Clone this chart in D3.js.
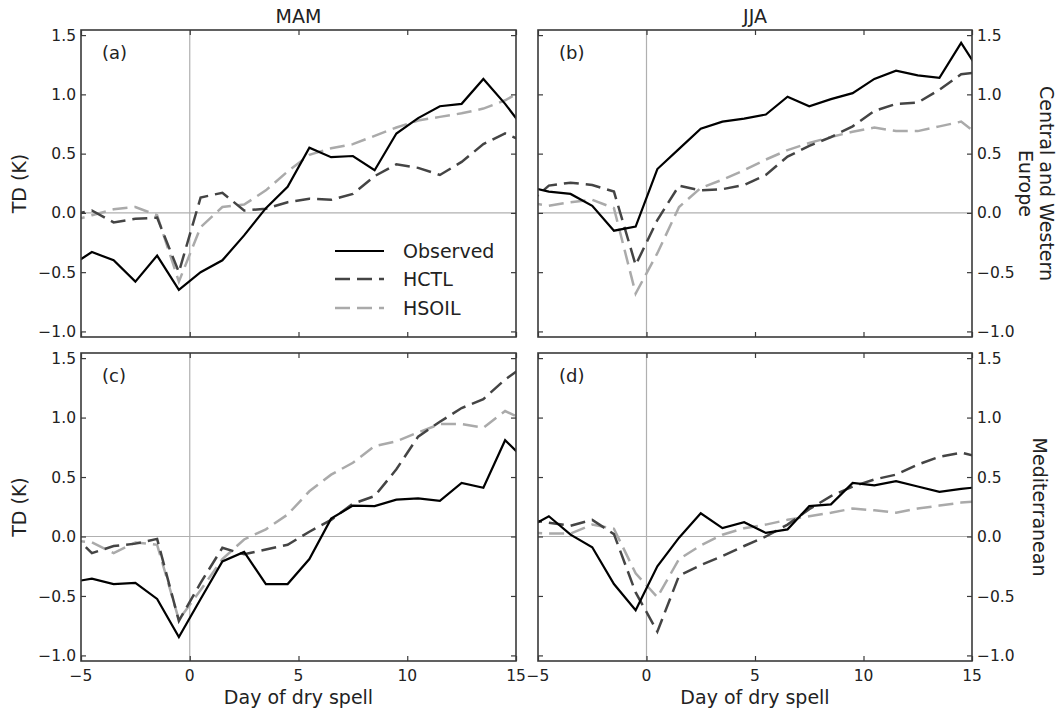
<!DOCTYPE html>
<html>
<head>
<meta charset="utf-8">
<script src="https://cdn.jsdelivr.net/npm/d3@7"></script>
<style>
  html, body { margin: 0; padding: 0; background: #fff; }
  svg { display: block; }
  text { font-family: "DejaVu Sans", sans-serif; fill: #222; }
</style>
</head>
<body>
<svg id="chart" width="1059" height="713"></svg>
<script>
// ---- Data ----
const days = [-5.5, -4.5, -3.5, -2.5, -1.5, -0.5, 0.5, 1.5, 2.5, 3.5, 4.5, 5.5, 6.5, 7.5, 8.5, 9.5, 10.5, 11.5, 12.5, 13.5, 14.5, 15.5];

const seasons = ["MAM", "JJA"];
const regions = [["Central and Western", "Europe"], ["Mediterranean"]];
const seriesNames = ["Observed", "HCTL", "HSOIL"];
const panelLabels = ["(a)", "(b)", "(c)", "(d)"];
const xTicks = [-5, 0, 5, 10, 15];
const yTicks = [-1.0, -0.5, 0.0, 0.5, 1.0, 1.5];

// (a) MAM, Central and Western Europe
const obsA   = [-0.45, -0.33, -0.40, -0.58, -0.36, -0.65, -0.50, -0.40, -0.19, 0.04, 0.22, 0.55, 0.47, 0.48, 0.36, 0.67, 0.80, 0.90, 0.92, 1.13, 0.92, 0.68];
const hctlA  = [-0.02, 0.02, -0.08, -0.05, -0.04, -0.50, 0.13, 0.17, 0.02, 0.035, 0.09, 0.12, 0.11, 0.16, 0.31, 0.41, 0.38, 0.32, 0.43, 0.58, 0.67, 0.59];
const hsoilA = [-0.07, -0.02, 0.03, 0.05, -0.02, -0.58, -0.12, 0.05, 0.07, 0.19, 0.35, 0.49, 0.545, 0.58, 0.65, 0.72, 0.78, 0.81, 0.84, 0.88, 0.95, 1.05];

// (b) JJA, Central and Western Europe
const obsB   = [0.22, 0.18, 0.16, 0.06, -0.15, -0.115, 0.37, 0.54, 0.71, 0.77, 0.795, 0.83, 0.98, 0.90, 0.96, 1.01, 1.13, 1.20, 1.16, 1.14, 1.435, 1.15];
const hctlB  = [0.07, 0.23, 0.255, 0.235, 0.18, -0.44, -0.06, 0.23, 0.19, 0.20, 0.235, 0.32, 0.475, 0.565, 0.64, 0.73, 0.86, 0.92, 0.93, 1.04, 1.17, 1.19];
const hsoilB = [0.09, 0.06, 0.09, 0.11, 0.04, -0.68, -0.34, 0.05, 0.21, 0.28, 0.36, 0.45, 0.53, 0.59, 0.64, 0.685, 0.72, 0.69, 0.69, 0.73, 0.77, 0.63];

// (c) MAM, Mediterranean
const obsC   = [-0.385, -0.355, -0.40, -0.39, -0.525, -0.845, -0.525, -0.21, -0.13, -0.40, -0.40, -0.19, 0.15, 0.26, 0.255, 0.31, 0.32, 0.30, 0.45, 0.41, 0.81, 0.63];
const hctlC  = [0.04, -0.14, -0.08, -0.06, -0.02, -0.71, -0.39, -0.095, -0.15, -0.11, -0.07, 0.04, 0.14, 0.275, 0.34, 0.565, 0.84, 0.965, 1.08, 1.155, 1.32, 1.45];
const hsoilC = [-0.03, -0.05, -0.14, -0.05, -0.07, -0.70, -0.45, -0.19, -0.025, 0.06, 0.185, 0.38, 0.52, 0.62, 0.76, 0.80, 0.875, 0.945, 0.945, 0.915, 1.055, 0.97];

// (d) JJA, Mediterranean
const obsD   = [0.07, 0.17, 0.015, -0.09, -0.40, -0.62, -0.25, -0.01, 0.195, 0.07, 0.12, 0.03, 0.06, 0.255, 0.27, 0.45, 0.43, 0.465, 0.42, 0.375, 0.40, 0.42];
const hctlD  = [0.145, 0.115, 0.09, 0.14, 0.02, -0.47, -0.80, -0.33, -0.24, -0.165, -0.08, 0.0, 0.10, 0.23, 0.34, 0.42, 0.48, 0.52, 0.605, 0.67, 0.705, 0.66];
const hsoilD = [0.035, 0.025, 0.025, 0.10, 0.065, -0.31, -0.51, -0.19, -0.075, 0.015, 0.07, 0.10, 0.14, 0.17, 0.20, 0.235, 0.22, 0.20, 0.235, 0.26, 0.285, 0.30];

const panelData = [
  [obsA, hctlA, hsoilA],
  [obsB, hctlB, hsoilB],
  [obsC, hctlC, hsoilC],
  [obsD, hctlD, hsoilD]
];

// ---- Styles / layout ----
const styles = [
  { color: "#000000", width: 2.2, dash: null },
  { color: "#444444", width: 2.5, dash: "15,7" },
  { color: "#aaaaaa", width: 2.5, dash: "15,7" }
];
const colX = [[81, 516], [538, 972]];
const rowY = [[30, 337], [353, 661]];
const frameColor = "#3a3a3a";
const tickFont = 15.5, labelFont = 19;

const svg = d3.select("#chart");
svg.append("rect").attr("width", 1059).attr("height", 713).attr("fill", "#fff");

panelData.forEach((series, i) => {
  const row = Math.floor(i / 2), col = i % 2;
  const [x0, x1] = colX[col];
  const [y0, y1] = rowY[row];
  const x = d3.scaleLinear().domain([-5, 15]).range([x0, x1]);
  const y = d3.scaleLinear().domain([-1.047, 1.543]).range([y1, y0]);

  const g = svg.append("g");
  const clipId = "clip" + i;
  svg.append("defs").append("clipPath").attr("id", clipId)
    .append("rect").attr("x", x0).attr("y", y0).attr("width", x1 - x0).attr("height", y1 - y0);

  // reference lines
  g.append("line").attr("x1", x0).attr("x2", x1).attr("y1", y(0)).attr("y2", y(0))
    .attr("stroke", "#b0b0b0").attr("stroke-width", 1.2);
  g.append("line").attr("x1", x(0)).attr("x2", x(0)).attr("y1", y0).attr("y2", y1)
    .attr("stroke", "#b0b0b0").attr("stroke-width", 1.2);

  // series
  const line = d3.line().x((d, k) => x(days[k])).y(d => y(d));
  const lg = g.append("g").attr("clip-path", `url(#${clipId})`);
  [2, 1, 0].forEach(s => {
    lg.append("path").datum(series[s]).attr("d", line)
      .attr("fill", "none").attr("stroke", styles[s].color)
      .attr("stroke-width", styles[s].width)
      .attr("stroke-dasharray", styles[s].dash)
      .attr("stroke-linejoin", "miter");
  });

  // axes (inward ticks on all four sides)
  const tl = 5;
  const left = g.append("g").attr("transform", `translate(${x0},0)`)
    .call(d3.axisRight(y).tickValues(yTicks).tickSize(tl).tickFormat(""));
  const right = g.append("g").attr("transform", `translate(${x1},0)`)
    .call(d3.axisLeft(y).tickValues(yTicks).tickSize(tl).tickFormat(""));
  const top = g.append("g").attr("transform", `translate(0,${y0})`)
    .call(d3.axisBottom(x).tickValues(xTicks).tickSize(tl).tickFormat(""));
  const bottom = g.append("g").attr("transform", `translate(0,${y1})`)
    .call(d3.axisTop(x).tickValues(xTicks).tickSize(tl).tickFormat(""));
  [left, right, top, bottom].forEach(a => {
    a.select(".domain").remove();
    a.selectAll("line").attr("stroke", frameColor).attr("stroke-width", 1.2);
  });

  // frame
  g.append("rect").attr("x", x0).attr("y", y0).attr("width", x1 - x0).attr("height", y1 - y0)
    .attr("fill", "none").attr("stroke", frameColor).attr("stroke-width", 1.6);

  // y tick labels
  const fmt = d3.format(".1f");
  const tickTxt = v => fmt(v).replace("-", "\u2212");
  yTicks.forEach(v => {
    g.append("text")
      .attr("x", col === 0 ? x0 - 5 : x1 + 5)
      .attr("y", y(v)).attr("dy", "0.36em")
      .attr("text-anchor", col === 0 ? "end" : "start")
      .attr("font-size", tickFont)
      .text(tickTxt(v));
  });

  // x tick labels on bottom row
  if (row === 1) {
    xTicks.forEach(v => {
      g.append("text").attr("x", x(v)).attr("y", 681)
        .attr("text-anchor", "middle").attr("font-size", tickFont)
        .text(String(v).replace("-", "\u2212"));
    });
    g.append("text").attr("x", (x0 + x1) / 2).attr("y", 704)
      .attr("text-anchor", "middle").attr("font-size", labelFont)
      .text("Day of dry spell");
  }

  // season titles
  if (row === 0) {
    g.append("text").attr("x", (x0 + x1) / 2).attr("y", 23)
      .attr("text-anchor", "middle").attr("font-size", labelFont)
      .text(seasons[col]);
  }

  const cy = (y0 + y1) / 2;
  if (col === 0) {
    g.append("text").attr("transform", `translate(19,${cy}) rotate(-90)`)
      .attr("text-anchor", "middle").attr("dy", "0.35em").attr("font-size", labelFont)
      .text("TD (K)");
  } else {
    // right-hand region labels, rotated clockwise; first line outermost
    const lines = regions[row];
    const lh = 21;
    const firstBaseline = lines.length > 1 ? 1040 : 1033;
    lines.forEach((ln, k) => {
      g.append("text")
        .attr("transform", `translate(${firstBaseline - k * lh},${cy}) rotate(90)`)
        .attr("text-anchor", "middle").attr("font-size", labelFont)
        .text(ln);
    });
  }

  // panel letter
  g.append("text").attr("x", x0 + 21).attr("y", y0 + 29)
    .attr("font-size", 18).text(panelLabels[i]);

  // legend in panel (a)
  if (i === 0) {
    const ly = [251, 279, 308];
    seriesNames.forEach((name, s) => {
      g.append("line").attr("x1", 335).attr("x2", 384).attr("y1", ly[s]).attr("y2", ly[s])
        .attr("stroke", styles[s].color).attr("stroke-width", styles[s].width)
        .attr("stroke-dasharray", styles[s].dash);
      g.append("text").attr("x", 403).attr("y", ly[s]).attr("dy", "0.36em")
        .attr("font-size", 19).text(name);
    });
  }
});
</script>
</body>
</html>
